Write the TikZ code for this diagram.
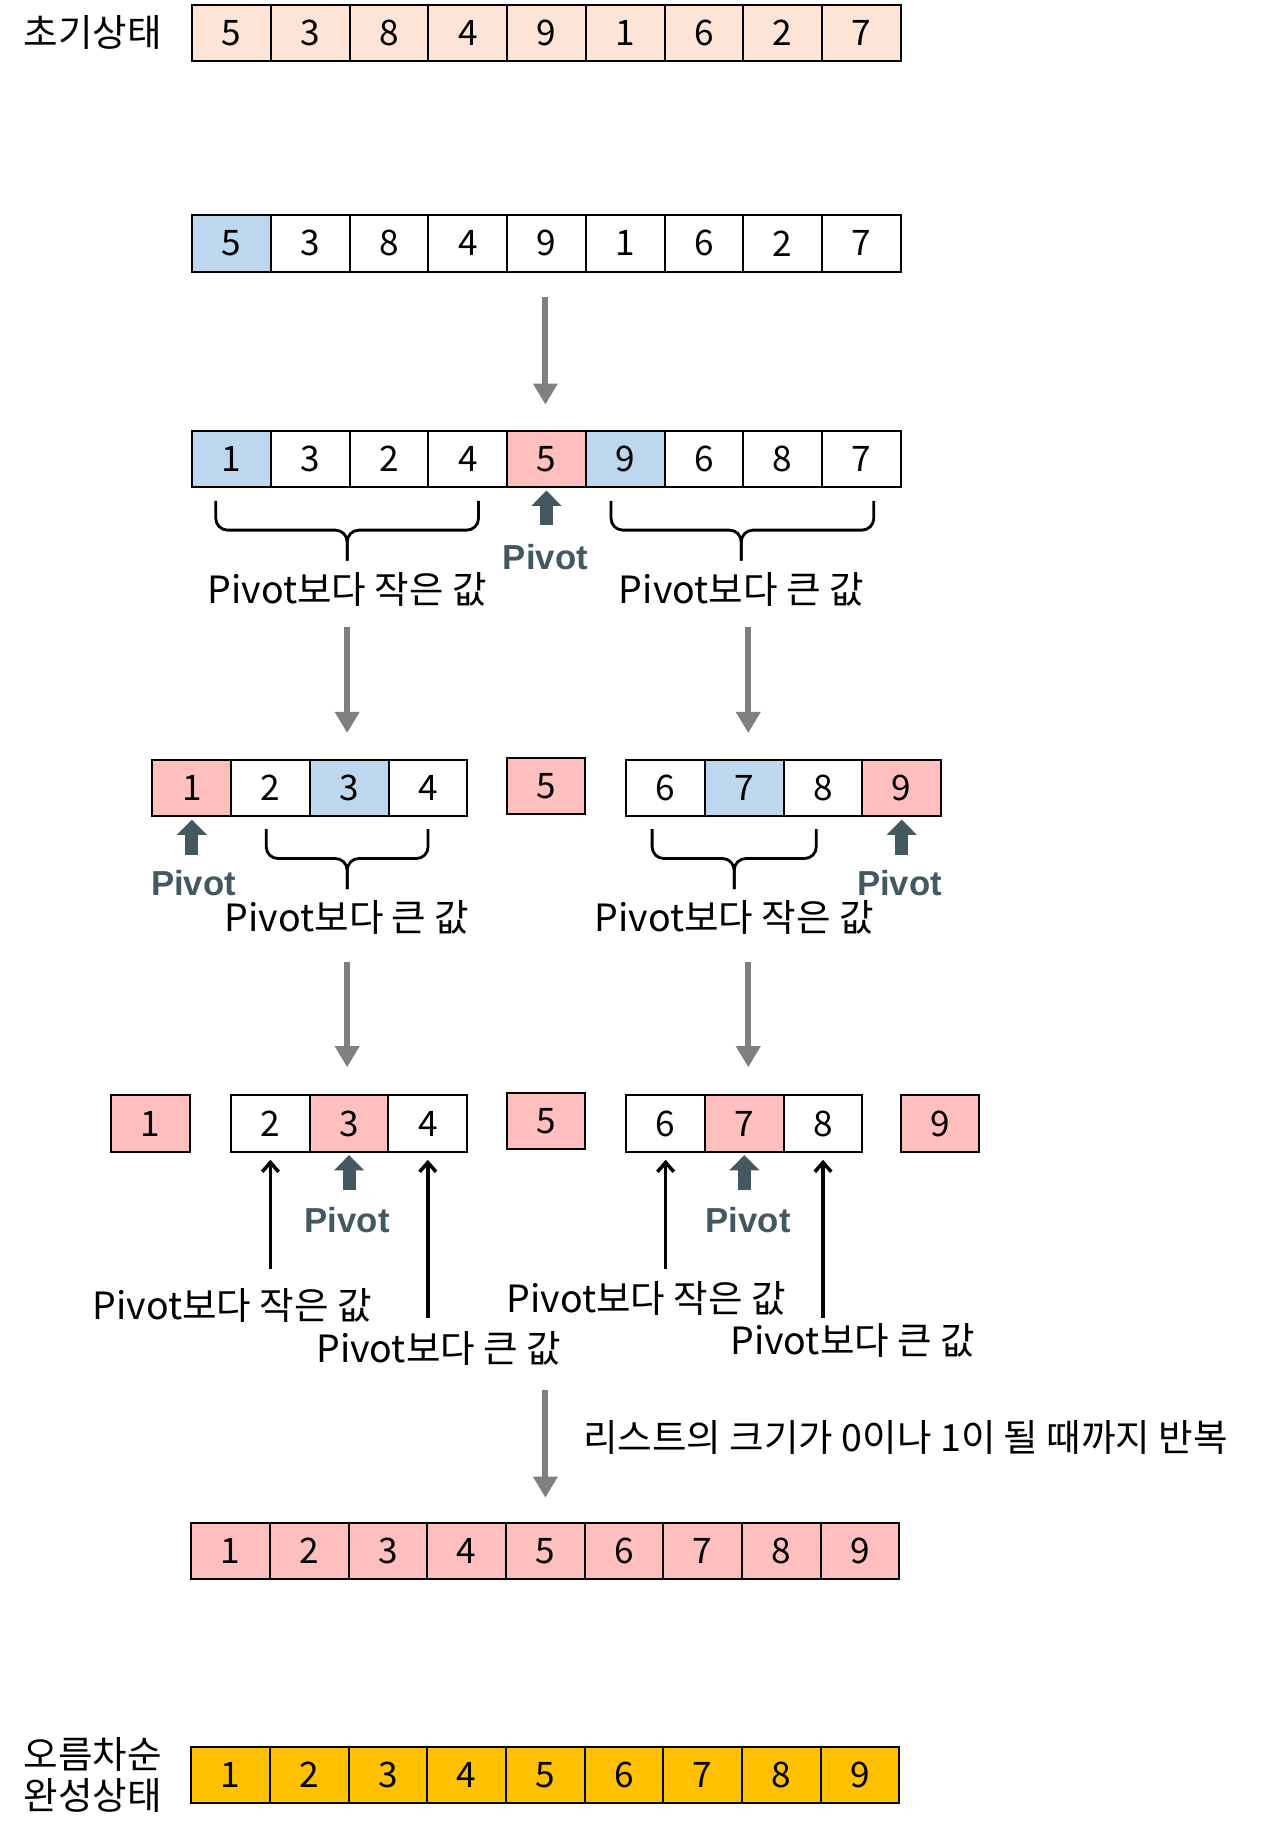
\documentclass[tikz,border=0pt]{standalone}
\usepackage{fontspec}
\setmainfont{Noto Sans CJK KR}
\newfontfamily\pivotfont{Liberation Sans}
\usetikzlibrary{arrows.meta}

\definecolor{peach}{HTML}{FCE4D6}
\definecolor{lightblue}{HTML}{BDD7EE}
\definecolor{rose}{HTML}{FFBFBF}
\definecolor{gold}{HTML}{FFC000}
\definecolor{slate}{HTML}{44595F}
\definecolor{flowgray}{HTML}{808080}

\tikzset{
  cell/.style={draw, line width=0.85pt, minimum width=33.55pt, minimum height=24pt,
    inner sep=0pt, font=\fontsize{15}{18}\selectfont},
  note/.style={font=\fontsize{16}{17.5}\selectfont, inner sep=0pt, align=center},
  pivotnote/.style={font=\pivotfont\bfseries\fontsize{14.8}{17}\selectfont, text=slate, inner sep=0pt},
  flow/.style={draw=flowgray, line width=2.5pt, -{Triangle[width=10pt,length=9pt]}},
  pivotarrow/.style={draw=slate, line width=5.5pt, -{Triangle[width=12.5pt,length=6.5pt]}, shorten >=1pt},
  pointer/.style={draw, line width=1.5pt, -{Straight Barb[width=7pt,length=4pt]}, shorten >=3pt},
  bracket/.style={draw, line width=1.2pt, rounded corners=5pt},
}

\begin{document}
\begin{tikzpicture}[x=0.5pt,y=-0.5pt]
  \useasboundingbox (0,0) rectangle (1091,1568);

  % initial state
  \node[note] (init) at (79,28) {초기상태};
  \foreach \v [count=\i] in {5,3,8,4,9,1,6,2,7}
    \node[cell,fill=peach] (a\i) at ({164+(\i-0.5)*67.1},28) {\v};

  % pick pivot
  \foreach \v/\c [count=\i] in {5/lightblue,3/white,8/white,4/white,9/white,1/white,6/white,2/white,7/white}
    \node[cell,fill=\c] (b\i) at ({164+(\i-0.5)*67.1},207.5) {\v};

  % first partition
  \foreach \v/\c [count=\i] in {1/lightblue,3/white,2/white,4/white,5/rose,9/lightblue,6/white,8/white,7/white}
    \node[cell,fill=\c] (c\i) at ({164+(\i-0.5)*67.1},391.5) {\v};

  % second partition
  \foreach \v/\c [count=\i] in {1/rose,2/white,3/lightblue,4/white}
    \node[cell,fill=\c] (dl\i) at ({130+(\i-0.5)*67.1},672) {\v};
  \node[cell,fill=rose] (dm) at (465.5,670) {5};
  \foreach \v/\c [count=\i] in {6/white,7/lightblue,8/white,9/rose}
    \node[cell,fill=\c] (dr\i) at ({534+(\i-0.5)*67.1},672) {\v};

  % third partition
  \node[cell,fill=rose] (e1) at (128.5,958) {1};
  \foreach \v/\c [count=\i] in {2/white,3/rose,4/white}
    \node[cell,fill=\c] (el\i) at ({197+(\i-0.5)*67.1},958) {\v};
  \node[cell,fill=rose] (e5) at (465.5,956) {5};
  \foreach \v/\c [count=\i] in {6/white,7/rose,8/white}
    \node[cell,fill=\c] (er\i) at ({534+(\i-0.5)*67.1},958) {\v};
  \node[cell,fill=rose] (e9) at (801.5,958) {9};

  % all sorted
  \foreach \v [count=\i] in {1,...,9}
    \node[cell,fill=rose] (f\i) at ({163+(\i-0.5)*67.1},1322.5) {\v};

  % final state
  \node[note] (done) at (79,1513) {오름차순\\완성상태};
  \foreach \v [count=\i] in {1,...,9}
    \node[cell,fill=gold] (g\i) at ({163+(\i-0.5)*67.1},1513.5) {\v};

  % flow between steps
  \coordinate (b-out) at (465,253);   \coordinate (c-in) at (465,345);
  \coordinate (cl-out) at (296,535);  \coordinate (dl-in) at (296,625);
  \coordinate (cr-out) at (638,535);  \coordinate (dr-in) at (638,625);
  \coordinate (dl-out) at (296,820);  \coordinate (el-in) at (296,910);
  \coordinate (dr-out) at (638,820);  \coordinate (er-in) at (638,910);
  \coordinate (e-out) at (465,1185);  \coordinate (f-in) at (465,1277);
  \draw[flow] (b-out) -- (c-in);
  \draw[flow] (cl-out) -- (dl-in);
  \draw[flow] (cr-out) -- (dr-in);
  \draw[flow] (dl-out) -- (el-in);
  \draw[flow] (dr-out) -- (er-in);
  \draw[flow] (e-out) -- (f-in);
  \node[note,anchor=west] (repeat) at (497,1226) {리스트의 크기가 0이나 1이 될 때까지 반복};

  % pivots
  \coordinate (pc) at (c5.south |- 0,448);
  \coordinate (pdl) at (dl1.south |- 0,729);
  \coordinate (pdr) at (dr4.south |- 0,729);
  \coordinate (pel) at (el2.south |- 0,1015);
  \coordinate (per) at (er2.south |- 0,1015);
  \draw[pivotarrow] (pc) -- (c5.south);
  \draw[pivotarrow] (pdl) -- (dl1.south);
  \draw[pivotarrow] (pdr) -- (dr4.south);
  \draw[pivotarrow] (pel) -- (el2.south);
  \draw[pivotarrow] (per) -- (er2.south);
  \node[pivotnote] at (465,475) {Pivot};
  \node[pivotnote] at (165,753) {Pivot};
  \node[pivotnote] at (767,753) {Pivot};
  \node[pivotnote] at (296,1040) {Pivot};
  \node[pivotnote] at (638,1040) {Pivot};

  % brackets under the parts
  \draw[bracket] (184,427) -- (184,452) -- (296,452) -- (296,478);
  \draw[bracket] (408,427) -- (408,452) -- (296,452) -- (296,478);
  \draw[bracket] (521,427) -- (521,452) -- (632,452) -- (632,478);
  \draw[bracket] (745,427) -- (745,452) -- (632,452) -- (632,478);
  \draw[bracket] (227,707) -- (227,732) -- (296,732) -- (296,758);
  \draw[bracket] (365,707) -- (365,732) -- (296,732) -- (296,758);
  \draw[bracket] (556,707) -- (556,732) -- (626,732) -- (626,758);
  \draw[bracket] (696,707) -- (696,732) -- (626,732) -- (626,758);
  \node[note] at (296,503) {Pivot보다 작은 값};
  \node[note] at (632,503) {Pivot보다 큰 값};
  \node[note] at (296,782) {Pivot보다 큰 값};
  \node[note] at (626,782) {Pivot보다 작은 값};

  % pointers in the last split
  \coordinate (sl) at (el1.south |- 0,1082);
  \coordinate (bl) at (el3.south |- 0,1124);
  \coordinate (sr) at (er1.south |- 0,1082);
  \coordinate (br) at (er3.south |- 0,1124);
  \draw[pointer] (sl) -- (el1.south);
  \draw[pointer] (bl) -- (el3.south);
  \draw[pointer] (sr) -- (er1.south);
  \draw[pointer] (br) -- (er3.south);
  \node[note] at (198,1113) {Pivot보다 작은 값};
  \node[note] at (374,1150) {Pivot보다 큰 값};
  \node[note] at (551,1107) {Pivot보다 작은 값};
  \node[note] at (727,1143) {Pivot보다 큰 값};
\end{tikzpicture}
\end{document}
